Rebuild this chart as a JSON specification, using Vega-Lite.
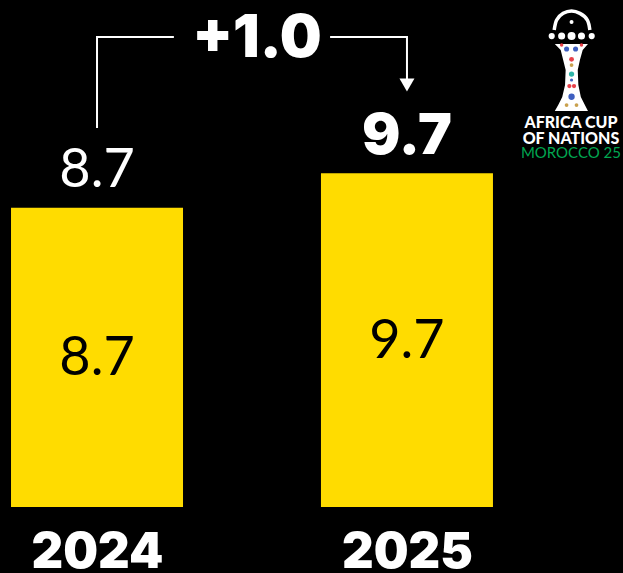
{"$schema":"https://vega.github.io/schema/vega-lite/v6.json","width":623,"height":507,"autosize":"none","padding":{"left":0,"right":0,"top":0,"bottom":66},"background":"#000000","view":{"stroke":null},
"datasets":{"bars":[{"year":2024,"value":8.7},{"year":2025,"value":9.7}],
"bracket":[{"g":"a","o":1,"x":2024,"v":11.017},{"g":"a","o":2,"x":2024,"v":13.663},{"g":"a","o":3,"x":2024.248,"v":13.663},{"g":"b","o":1,"x":2024.752,"v":13.663},{"g":"b","o":2,"x":2025,"v":13.663},{"g":"b","o":3,"x":2025,"v":12.413}],
"arrow":[{"x":2025,"v":12.27}],
"delta":[{"x":2024.516,"v":13.69,"t":"+1.0"}],
"arc":[{"o":1,"x":2025.475,"v":13.866},{"o":2,"x":2025.483,"v":14.157},{"o":3,"x":2025.504,"v":14.352},{"o":4,"x":2025.531,"v":14.419},{"o":5,"x":2025.558,"v":14.352},{"o":6,"x":2025.582,"v":14.157},{"o":7,"x":2025.59,"v":13.866}],
"cup":[{"v":13.459,"l":2025.477,"r":2025.584},{"v":13.285,"l":2025.496,"r":2025.567},{"v":12.994,"l":2025.504,"r":2025.558},{"v":12.703,"l":2025.512,"r":2025.551},{"v":12.267,"l":2025.51,"r":2025.553},{"v":11.919,"l":2025.501,"r":2025.561},{"v":11.686,"l":2025.488,"r":2025.574},{"v":11.512,"l":2025.477,"r":2025.584}],
"dots":[{"x":2025.467,"v":13.692,"s":38,"c":"#ffffff"},{"x":2025.499,"v":13.692,"s":50,"c":"#ffffff"},{"x":2025.531,"v":13.692,"s":64,"c":"#ffffff"},{"x":2025.563,"v":13.692,"s":50,"c":"#ffffff"},{"x":2025.596,"v":13.692,"s":38,"c":"#ffffff"},{"x":2025.531,"v":14.1,"s":16,"c":"#ffffff"},{"x":2025.499,"v":13.43,"s":12,"c":"#e8414a"},{"x":2025.563,"v":13.43,"s":12,"c":"#e8414a"},{"x":2025.515,"v":13.314,"s":26,"c":"#3f5fc0"},{"x":2025.544,"v":13.314,"s":26,"c":"#3f5fc0"},{"x":2025.531,"v":13.014,"s":24,"c":"#e8414a"},{"x":2025.531,"v":12.849,"s":14,"c":"#c9a14e"},{"x":2025.531,"v":12.587,"s":28,"c":"#2fb5a8"},{"x":2025.531,"v":12.413,"s":10,"c":"#3f5fc0"},{"x":2025.524,"v":12.238,"s":18,"c":"#e8414a"},{"x":2025.539,"v":12.238,"s":18,"c":"#e8414a"},{"x":2025.531,"v":11.927,"s":40,"c":"#3f5fc0"},{"x":2025.515,"v":11.686,"s":14,"c":"#c9a14e"},{"x":2025.547,"v":11.686,"s":14,"c":"#c9a14e"}],
"logo":[{"x":2025.529,"v":11.17,"t":"AFRICA CUP"},{"x":2025.529,"v":10.71,"t":"OF NATIONS"}],
"logo2":[{"x":2025.529,"v":10.3,"t":"MOROCCO 25"}]},
"layer":[
{"data":{"name":"bars"},"mark":{"type":"bar","size":172,"color":"#FFDC00"},"encoding":{"x":{"field":"year","type":"quantitative","scale":{"domain":[2023.687,2025.697],"nice":false,"zero":false,"padding":0},"axis":{"values":[2024,2025],"format":"d","title":null,"grid":false,"domain":false,"ticks":false,"labelColor":"#ffffff","labelFont":"Inter","labelFontWeight":900,"labelFontSize":49,"labelPadding":21,"labelBaseline":"top"}},"y":{"field":"value","type":"quantitative","scale":{"domain":[0,14.74],"nice":false,"padding":0},"axis":null}}},
{"data":{"name":"bars"},"transform":[{"calculate":"datum.value/2","as":"mid"}],"mark":{"type":"text","font":"Lato","fontWeight":400,"fontSize":54,"color":"#000000","baseline":"middle","dy":2},"encoding":{"x":{"field":"year","type":"quantitative"},"y":{"field":"mid","type":"quantitative"},"text":{"field":"value","type":"quantitative","format":".1f"}}},
{"data":{"name":"bars"},"transform":[{"filter":"datum.year==2024"}],"mark":{"type":"text","font":"Lato","fontWeight":400,"fontSize":54,"color":"#ffffff","baseline":"middle","dy":-37},"encoding":{"x":{"field":"year","type":"quantitative"},"y":{"field":"value","type":"quantitative"},"text":{"field":"value","type":"quantitative","format":".1f"}}},
{"data":{"name":"bars"},"transform":[{"filter":"datum.year==2025"}],"mark":{"type":"text","font":"Inter","fontWeight":900,"fontSize":57,"color":"#ffffff","baseline":"middle","dy":-36},"encoding":{"x":{"field":"year","type":"quantitative"},"y":{"field":"value","type":"quantitative"},"text":{"field":"value","type":"quantitative","format":".1f"}}},
{"data":{"name":"bracket"},"mark":{"type":"line","color":"#ffffff","strokeWidth":2},"encoding":{"x":{"field":"x","type":"quantitative"},"y":{"field":"v","type":"quantitative"},"detail":{"field":"g"},"order":{"field":"o"}}},
{"data":{"name":"arrow"},"mark":{"type":"point","shape":"triangle-down","filled":true,"opacity":1,"color":"#ffffff","size":225},"encoding":{"x":{"field":"x","type":"quantitative"},"y":{"field":"v","type":"quantitative"}}},
{"data":{"name":"delta"},"mark":{"type":"text","font":"Inter","fontWeight":900,"fontSize":59,"color":"#ffffff","baseline":"middle","dy":3},"encoding":{"x":{"field":"x","type":"quantitative"},"y":{"field":"v","type":"quantitative"},"text":{"field":"t"}}},
{"data":{"name":"arc"},"mark":{"type":"line","color":"#ffffff","strokeWidth":3.5,"interpolate":"natural"},"encoding":{"x":{"field":"x","type":"quantitative"},"y":{"field":"v","type":"quantitative"},"order":{"field":"o"}}},
{"data":{"name":"cup"},"mark":{"type":"area","orient":"horizontal","color":"#ffffff","opacity":1},"encoding":{"y":{"field":"v","type":"quantitative"},"x":{"field":"l","type":"quantitative"},"x2":{"field":"r"}}},
{"data":{"name":"dots"},"mark":{"type":"circle","opacity":1},"encoding":{"x":{"field":"x","type":"quantitative"},"y":{"field":"v","type":"quantitative"},"size":{"field":"s","type":"quantitative","scale":null},"color":{"field":"c","type":"nominal","scale":null}}},
{"data":{"name":"logo"},"mark":{"type":"text","font":"Lato","fontWeight":900,"fontSize":16,"color":"#ffffff","baseline":"middle"},"encoding":{"x":{"field":"x","type":"quantitative"},"y":{"field":"v","type":"quantitative"},"text":{"field":"t"}}},
{"data":{"name":"logo2"},"mark":{"type":"text","font":"Lato","fontWeight":400,"fontSize":15,"color":"#00A651","baseline":"middle"},"encoding":{"x":{"field":"x","type":"quantitative"},"y":{"field":"v","type":"quantitative"},"text":{"field":"t"}}}
]}
